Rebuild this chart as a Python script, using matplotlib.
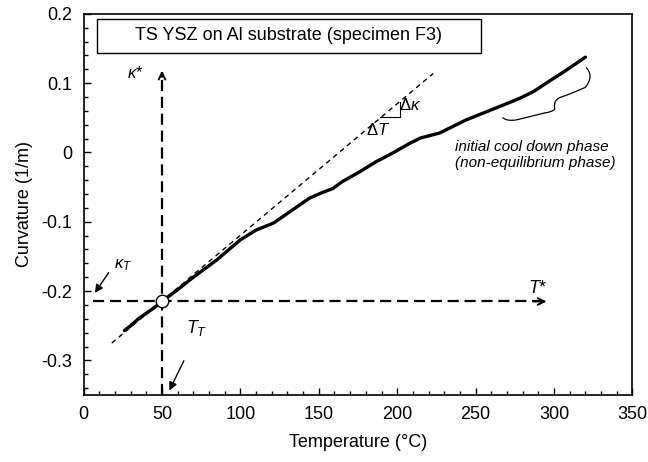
import numpy as np
import matplotlib.pyplot as plt
from matplotlib.patches import Rectangle
from matplotlib.ticker import MultipleLocator, FuncFormatter

plt.rcParams['font.family'] = ['Liberation Sans', 'DejaVu Sans']
plt.rcParams['font.size'] = 13
plt.rcParams['mathtext.fontset'] = 'custom'
plt.rcParams['mathtext.rm'] = 'Liberation Sans'
plt.rcParams['mathtext.it'] = 'Liberation Sans:italic'

temperature = [26, 30, 35, 40, 45, 50, 60, 70, 85, 100, 110, 121, 130, 144, 152,
               159, 165, 176, 186, 197, 207, 215, 227, 235, 244, 255, 265, 278,
               287, 295, 308, 320]
curvature = [-0.257, -0.250, -0.240, -0.232, -0.224, -0.215, -0.198, -0.180,
             -0.155, -0.126, -0.112, -0.102, -0.088, -0.066, -0.058, -0.052,
             -0.042, -0.028, -0.014, -0.001, 0.012, 0.021, 0.028, 0.037, 0.047,
             0.057, 0.066, 0.078, 0.088, 0.100, 0.119, 0.1375]

# tangent at the reference point
tangent_T = [18, 223]
tangent_k = [-0.275, 0.114]

# reference point (T_T, kappa_T)
ref_T = 50
ref_k = -0.215

fig = plt.figure(figsize=(6.48, 4.62), dpi=100)
ax = fig.add_axes([0.129, 0.145, 0.847, 0.825])

# dashed coordinate axes through the reference point
ax.plot([ref_T, ref_T], [-0.35, 0.116], color='black', lw=1.6,
        linestyle=(0, (5, 2.6)))
ax.annotate('', xy=(ref_T, 0.122), xytext=(ref_T, 0.105),
            arrowprops=dict(arrowstyle='->', lw=1.4, color='black', mutation_scale=12))
ax.plot([6, 292], [ref_k, ref_k], color='black', lw=1.6, linestyle=(0, (5, 2.6)))
ax.annotate('', xy=(297, ref_k), xytext=(285, ref_k),
            arrowprops=dict(arrowstyle='->', lw=1.4, color='black', mutation_scale=12))

# tangent line and slope triangle
ax.plot(tangent_T, tangent_k, color='black', lw=1.0, linestyle=(0, (3.5, 3)))
ax.plot([189, 201.7, 201.7], [0.051, 0.051, 0.0734], color='black', lw=0.8)

# measured curve
ax.plot(temperature, curvature, color='black', lw=2.4, solid_capstyle='round')

# reference point marker
ax.plot([ref_T], [ref_k], marker='o', markersize=9, markerfacecolor='white',
        markeredgecolor='black', markeredgewidth=1.0, zorder=5)

# labels on the figure
ax.text(33, 0.115, r'$\kappa$*', fontsize=12, ha='center', va='center')
ax.text(538, 0, '', fontsize=1)
ax.text(290, -0.196, r'$T$*', fontsize=13, ha='center', va='center')
ax.text(25, -0.162, r'$\kappa_T$', fontsize=12, ha='center', va='center')
ax.text(72, -0.253, r'$T_T$', fontsize=13, ha='center', va='center')
ax.text(208, 0.069, r'$\Delta\kappa$', fontsize=12, ha='center', va='center')
ax.text(188, 0.033, r'$\Delta T$', fontsize=12, ha='center', va='center')

ax.annotate('', xy=(6.2, -0.206), xytext=(17, -0.170),
            arrowprops=dict(arrowstyle='-|>', lw=1.0, color='black', mutation_scale=12))
ax.annotate('', xy=(53.9, -0.347), xytext=(64.7, -0.297),
            arrowprops=dict(arrowstyle='-|>', lw=1.0, color='black', mutation_scale=12))

# brace marking the initial cool down phase
def qbez(p0, p1, p2, n=20):
    t = np.linspace(0, 1, n)[:, None]
    return (1 - t) ** 2 * np.array(p0) + 2 * (1 - t) * t * np.array(p1) + t ** 2 * np.array(p2)

seg = [qbez((320.7, 0.122), (325.5, 0.110), (320.0, 0.094)),
       qbez((320.0, 0.094), (311, 0.085), (303.5, 0.079)),
       qbez((303.5, 0.079), (299.5, 0.075), (300.5, 0.063)),
       qbez((300.5, 0.063), (299.5, 0.059), (294, 0.057)),
       qbez((294, 0.057), (285, 0.052), (276, 0.047)),
       qbez((276, 0.047), (270, 0.045), (267.5, 0.050))]
brace = np.vstack(seg)
ax.plot(brace[:, 0], brace[:, 1], color='black', lw=0.9)

ax.text(236.7, 0.0084, 'initial cool down phase', fontsize=11, style='italic',
        ha='left', va='center')
ax.text(236.7, -0.0155, '(non-equilibrium phase)', fontsize=11, style='italic',
        ha='left', va='center')

# title box
ax.add_patch(Rectangle((0.0246, 0.898), 0.6994, 0.089, transform=ax.transAxes,
                       facecolor='white', edgecolor='black', lw=1.0, zorder=6))
ax.text(0.374, 0.9425, 'TS YSZ on Al substrate (specimen F3)', transform=ax.transAxes,
        fontsize=13, ha='center', va='center', zorder=7)

ax.set_xlim(0, 350)
ax.set_ylim(-0.35, 0.2)
ax.xaxis.set_major_locator(MultipleLocator(50))
ax.xaxis.set_minor_locator(MultipleLocator(10))
ax.yaxis.set_major_locator(MultipleLocator(0.1))
ax.yaxis.set_minor_locator(MultipleLocator(0.02))
ax.yaxis.set_major_formatter(FuncFormatter(lambda v, p: '%g' % round(v, 2)))
ax.tick_params(which='both', direction='in', top=False, right=False, labelsize=13)
ax.tick_params(which='major', length=5, width=1.0, pad=8)
ax.tick_params(which='minor', length=3, width=1.0)
for s in ax.spines.values():
    s.set_linewidth(1.2)

ax.set_xlabel('Temperature (\u00b0C)', fontsize=13, labelpad=8)
ax.set_ylabel('Curvature (1/m)', fontsize=13, labelpad=6)

plt.savefig('out.png', dpi=100, facecolor='white')
